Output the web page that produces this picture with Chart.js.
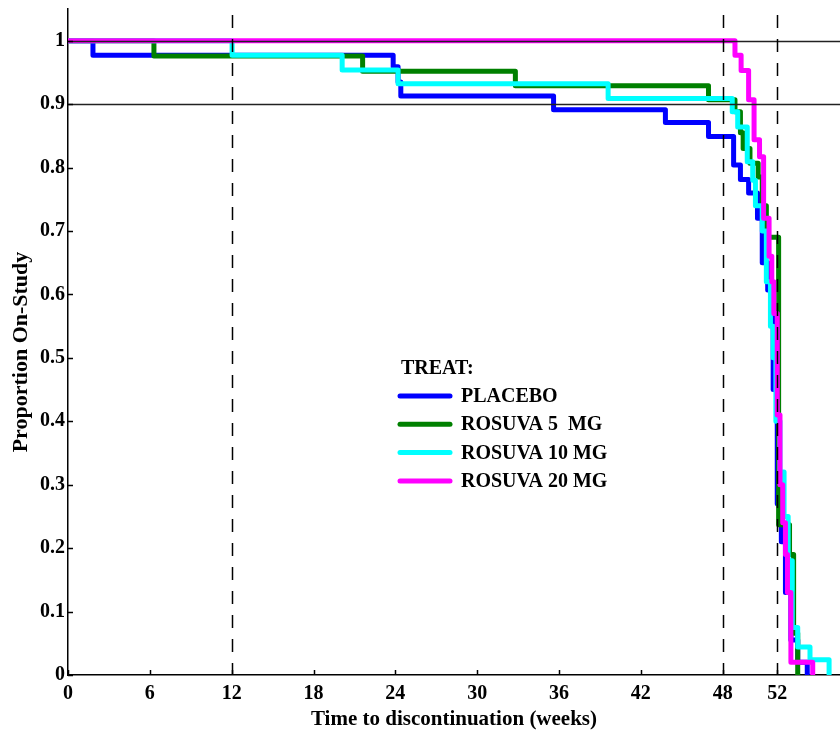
<!DOCTYPE html>
<html>
<head>
<meta charset="utf-8">
<script src="https://cdn.jsdelivr.net/npm/chart.js@4/dist/chart.umd.min.js"></script>
<style>
  html, body { margin: 0; padding: 0; background: #fff; }
  #wrap { width: 840px; height: 736px; }
</style>
</head>
<body>
<div id="wrap"><canvas id="km" width="840" height="736"></canvas></div>
<script>
// Kaplan-Meier style proportion on-study, by treatment group
const legendTitle = 'TREAT:';
const yTitle = 'Proportion On-Study';
const xTitle = 'Time to discontinuation (weeks)';
const seriesNames = ['PLACEBO', 'ROSUVA 5  MG', 'ROSUVA 10 MG', 'ROSUVA 20 MG'];
const seriesColors = ['#0000ff', '#008000', '#00ffff', '#ff00ff'];

// weeks at which each curve steps, and the proportion after the step
const placeboWeeks = [0, 1.83, 23.84, 24.2, 24.4, 35.6, 43.8, 46.96, 48.8, 49.3, 49.9, 50.55, 50.9, 51.3, 51.7, 52.0, 52.3, 52.6, 53.0, 53.5, 54.2];
const placeboProp  = [1, 0.977, 0.959, 0.935, 0.913, 0.891, 0.871, 0.849, 0.804, 0.781, 0.76, 0.72, 0.65, 0.607, 0.45, 0.27, 0.21, 0.13, 0.055, 0.02, 0];

const rosuva5Weeks = [0, 6.3, 21.6, 32.8, 46.96, 48.9, 49.3, 49.5, 50.0, 50.6, 50.9, 51.2, 52.1, 52.9, 53.2, 53.5];
const rosuva5Prop  = [1, 0.976, 0.952, 0.929, 0.907, 0.888, 0.855, 0.83, 0.807, 0.785, 0.74, 0.69, 0.237, 0.19, 0.066, 0];

const rosuva10Weeks = [0, 12.03, 20.1, 24.2, 39.6, 48.7, 49.1, 49.8, 50.2, 50.4, 50.9, 51.2, 51.5, 51.7, 51.9, 52.2, 52.5, 52.8, 53.1, 53.5, 54.4, 55.8];
const rosuva10Prop  = [1, 0.977, 0.954, 0.932, 0.909, 0.888, 0.864, 0.809, 0.78, 0.74, 0.70, 0.62, 0.55, 0.50, 0.40, 0.32, 0.25, 0.18, 0.075, 0.044, 0.024, 0];

const rosuva20Weeks = [0, 48.9, 49.35, 49.9, 50.3, 50.7, 51.0, 51.4, 51.6, 51.75, 52.0, 52.2, 52.4, 52.6, 52.75, 53.0, 54.6];
const rosuva20Prop  = [1, 0.977, 0.953, 0.907, 0.844, 0.817, 0.72, 0.66, 0.62, 0.57, 0.41, 0.30, 0.24, 0.19, 0.13, 0.02, 0];

// axis ticks
const xTickValues = [0, 6, 12, 18, 24, 30, 36, 42, 48, 52];
const xTickLabels = ['0', '6', '12', '18', '24', '30', '36', '42', '48', '52'];
const yTickValues = [0, 0.1, 0.2, 0.3, 0.4, 0.5, 0.6, 0.7, 0.8, 0.9, 1];
const yTickLabels = ['0', '0.1', '0.2', '0.3', '0.4', '0.5', '0.6', '0.7', '0.8', '0.9', '1'];

// reference lines
const refLevels = [1, 0.9];
const refWeeks = [12, 48, 52];

const FONT = 'Liberation Serif, Times New Roman, serif';

function toPoints(xs, ys) {
  return xs.map((x, i) => ({ x: x, y: ys[i] }));
}

const seriesData = [
  toPoints(placeboWeeks, placeboProp),
  toPoints(rosuva5Weeks, rosuva5Prop),
  toPoints(rosuva10Weeks, rosuva10Prop),
  toPoints(rosuva20Weeks, rosuva20Prop)
];

const datasets = seriesData.map((pts, i) => ({
  label: seriesNames[i],
  data: pts,
  borderColor: seriesColors[i],
  backgroundColor: seriesColors[i],
  borderWidth: 5,
  stepped: true,
  pointRadius: 0,
  fill: false,
  borderJoinStyle: 'round',
  borderCapStyle: 'round',
  order: 4 - i
}));

const overlay = {
  id: 'overlay',
  afterDatasetsDraw(chart) {
    const { ctx, chartArea: a, scales: { x, y } } = chart;
    ctx.save();
    // horizontal reference levels
    ctx.strokeStyle = '#222';
    ctx.lineWidth = 1.5;
    refLevels.forEach(v => {
      const py = Math.round(y.getPixelForValue(v)) + 0.5;
      ctx.beginPath();
      ctx.moveTo(a.left, py);
      ctx.lineTo(a.right, py);
      ctx.stroke();
    });
    // dashed week markers
    ctx.strokeStyle = '#000';
    ctx.setLineDash([13, 11]);
    refWeeks.forEach(w => {
      const px = Math.round(x.getPixelForValue(w)) + 0.5;
      ctx.beginPath();
      ctx.moveTo(px, a.top + 6);
      ctx.lineTo(px, a.bottom);
      ctx.stroke();
    });
    ctx.setLineDash([]);
    // inward tick marks
    ctx.lineWidth = 1.5;
    x.ticks.forEach(t => {
      const px = Math.round(x.getPixelForValue(t.value)) + 0.5;
      ctx.beginPath();
      ctx.moveTo(px, a.bottom);
      ctx.lineTo(px, a.bottom - 5);
      ctx.stroke();
    });
    y.ticks.forEach(t => {
      const py = Math.round(y.getPixelForValue(t.value)) + 0.5;
      ctx.beginPath();
      ctx.moveTo(a.left, py);
      ctx.lineTo(a.left + 5, py);
      ctx.stroke();
    });
    ctx.restore();
  },
  afterDraw(chart) {
    const { ctx } = chart;
    ctx.save();
    // vertical axis title
    ctx.fillStyle = '#000';
    ctx.font = 'bold 22px ' + FONT;
    ctx.textAlign = 'center';
    ctx.textBaseline = 'middle';
    ctx.translate(21, 352);
    ctx.rotate(-Math.PI / 2);
    ctx.fillText(yTitle, 0, 0);
    ctx.restore();

    ctx.save();
    // legend block
    ctx.font = 'bold 20px ' + FONT;
    ctx.fillStyle = '#000';
    ctx.textBaseline = 'middle';
    ctx.textAlign = 'left';
    ctx.fillText(legendTitle, 401, 369);
    seriesNames.forEach((name, i) => {
      const cy = 396 + i * 28.3;
      ctx.strokeStyle = seriesColors[i];
      ctx.lineWidth = 5;
      ctx.lineCap = 'round';
      ctx.beginPath();
      ctx.moveTo(400, cy);
      ctx.lineTo(450, cy);
      ctx.stroke();
      ctx.fillText(name, 461, cy + 1);
    });
    ctx.restore();
  }
};

new Chart(document.getElementById('km'), {
  type: 'line',
  data: { datasets: datasets },
  options: {
    responsive: false,
    animation: false,
    devicePixelRatio: 1,
    layout: { autoPadding: false, padding: { top: 9, right: 0, left: 0, bottom: 0 } },
    plugins: { legend: { display: false }, tooltip: { enabled: false } },
    elements: { line: { tension: 0 } },
    scales: {
      x: {
        type: 'linear',
        min: 0,
        max: 56.6,
        afterBuildTicks: s => { s.ticks = xTickValues.map(v => ({ value: v })); },
        afterFit: s => { s.height = 61; s.paddingLeft = 0; s.paddingRight = 0; },
        grid: { display: false, drawTicks: false },
        border: { display: true, color: '#000', width: 1.5 },
        ticks: {
          color: '#000',
          autoSkip: false,
          maxRotation: 0,
          padding: 7,
          font: { family: FONT, size: 20, weight: 'bold' },
          callback: (v, i) => xTickLabels[i]
        },
        title: {
          display: true,
          text: xTitle,
          color: '#000',
          font: { family: FONT, size: 21, weight: 'bold' },
          padding: { top: 0, bottom: 4 }
        }
      },
      y: {
        type: 'linear',
        min: 0,
        max: 1.05,
        afterBuildTicks: s => { s.ticks = yTickValues.map(v => ({ value: v })); },
        afterFit: s => { s.width = 68; s.paddingTop = 0; s.paddingBottom = 0; },
        grid: { display: false, drawTicks: false },
        border: { display: true, color: '#000', width: 1.5 },
        ticks: {
          color: '#000',
          autoSkip: false,
          padding: 3,
          font: { family: FONT, size: 20, weight: 'bold' },
          callback: (v, i) => yTickLabels[i]
        },
        title: { display: false }
      }
    }
  },
  plugins: [overlay]
});
</script>
</body>
</html>
